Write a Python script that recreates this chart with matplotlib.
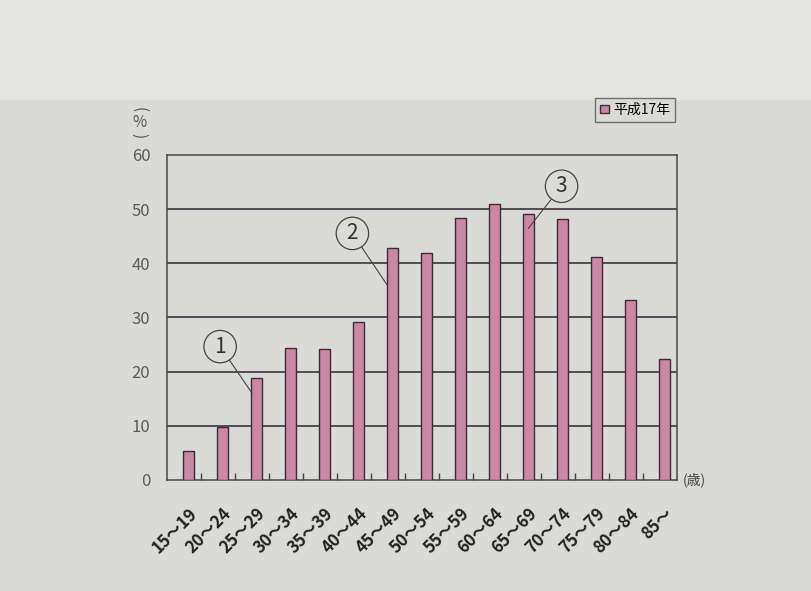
import matplotlib
matplotlib.use("Agg")
import matplotlib.pyplot as plt
from matplotlib.patches import Rectangle
import numpy as np

plt.rcParams['font.family'] = ['Noto Sans CJK JP', 'DejaVu Sans']

categories = ["15～19", "20～24", "25～29", "30～34", "35～39", "40～44", "45～49",
              "50～54", "55～59", "60～64", "65～69", "70～74", "75～79", "80～84", "85～"]
values = [5.4, 9.8, 18.8, 24.3, 24.2, 29.2, 42.8, 41.8, 48.3, 50.9, 49.0, 48.2, 41.1, 33.2, 22.3]
series_name = "平成17年"
yticks = [0, 10, 20, 30, 40, 50, 60]

bg = '#dadad7'
fig = plt.figure(figsize=(8.11, 5.91), dpi=100, facecolor=bg)
fig.add_artist(Rectangle((0, 1 - 100 / 591), 1, 100 / 591, transform=fig.transFigure,
                         facecolor='#e4e4e2', edgecolor='none', zorder=0))
ax = fig.add_axes([0.206, 0.188, 0.629, 0.550])
ax.set_facecolor(bg)

x = np.arange(len(categories))
offset = 0.12
ax.bar(x + offset, values, width=0.33, color='#cc87a4', edgecolor='#3a2d3a',
       linewidth=1.0, zorder=3, label=series_name)

ax.set_xlim(-0.5, len(categories) - 0.5)
ax.set_ylim(0, 60)
ax.set_yticks(yticks)
ax.set_yticklabels([str(v) for v in yticks], fontsize=12, color='#5a5a5a')
ax.tick_params(axis='y', length=0, pad=12)
for v in yticks[1:-1]:
    ax.axhline(v, color='#3c3442', linewidth=1.2, zorder=1)

ax.set_xticks(x + offset)
ax.set_xticklabels(categories, rotation=45, ha='right', rotation_mode='anchor',
                   fontsize=12, fontweight='bold', color='#222222')
ax.tick_params(axis='x', length=0, pad=18)
ax.set_xticks(x[:-1] + 0.5, minor=True)
ax.tick_params(axis='x', which='minor', direction='in', length=5, color='#444444', width=1)

for s in ax.spines.values():
    s.set_color('#4a4450')
    s.set_linewidth(1.1)

# annotations
circ = dict(boxstyle='circle,pad=0.25', facecolor='none', edgecolor='#444444', linewidth=0.9)
arrow = dict(arrowstyle='-', color='#444444', linewidth=0.8, shrinkA=0, shrinkB=0)
ax.annotate('1', xy=(2.0, 16.0), xytext=(1.06, 24.6), ha='center', va='center',
            fontsize=15, color='#333333', bbox=circ, arrowprops=arrow, zorder=5)
ax.annotate('2', xy=(5.97, 36.0), xytext=(4.95, 45.5), ha='center', va='center',
            fontsize=15, color='#333333', bbox=circ, arrowprops=arrow, zorder=5)
ax.annotate('3', xy=(10.12, 46.4), xytext=(11.1, 54.2), ha='center', va='center',
            fontsize=15, color='#333333', bbox=circ, arrowprops=arrow, zorder=5)

# unit labels: vertical "(%)"
ax.text(-0.055, 1.14, "(", transform=ax.transAxes, ha='center', va='center',
        fontsize=11, color='#555555', rotation=-90)
ax.text(-0.055, 1.10, "%", transform=ax.transAxes, ha='center', va='center',
        fontsize=11, color='#555555')
ax.text(-0.055, 1.06, ")", transform=ax.transAxes, ha='center', va='center',
        fontsize=11, color='#555555', rotation=-90)
ax.text(1.01, 0.0, "(歳)", transform=ax.transAxes, ha='left', va='center',
        fontsize=10, color='#444444')

leg = ax.legend(loc='upper right', bbox_to_anchor=(0.995, 1.175), fontsize=10,
                frameon=True, fancybox=False, edgecolor='#555555', facecolor=bg,
                handlelength=0.6, handleheight=0.6, handletextpad=0.3,
                borderpad=0.35, borderaxespad=0)
leg.get_frame().set_linewidth(1.0)

fig.savefig("out.png", dpi=100, facecolor=fig.get_facecolor())
